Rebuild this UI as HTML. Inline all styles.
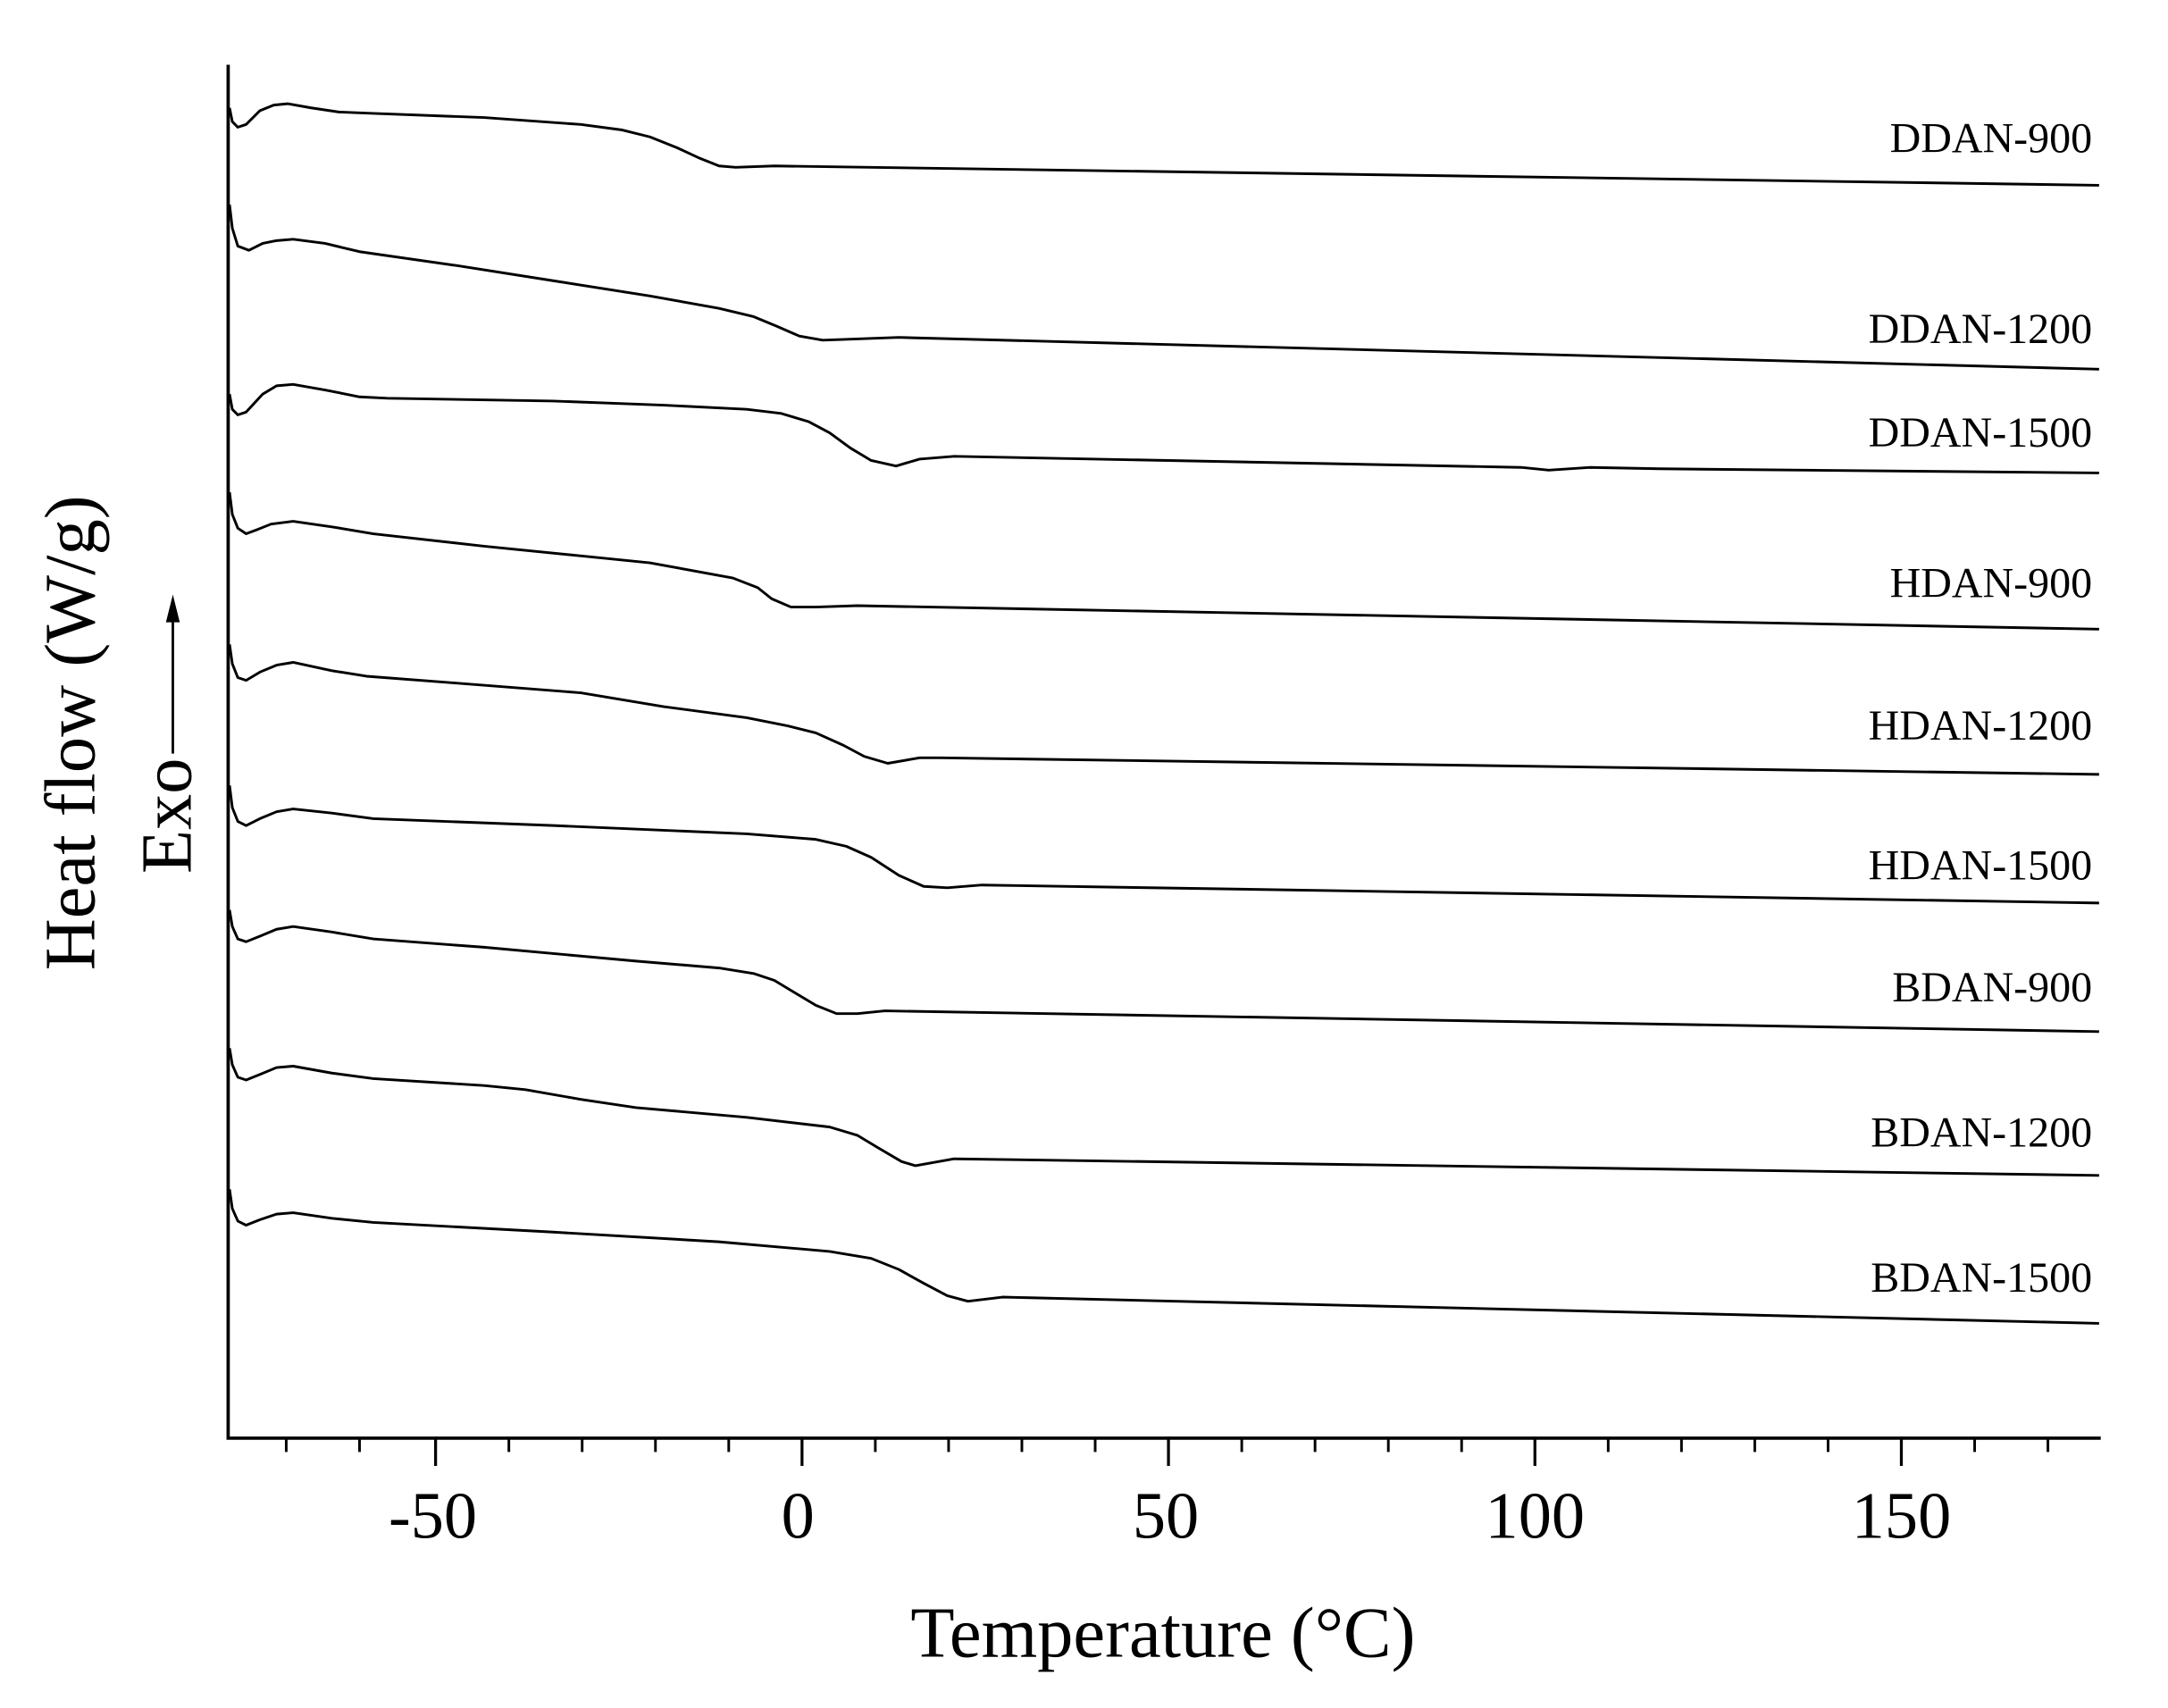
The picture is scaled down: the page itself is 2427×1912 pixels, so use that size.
<!DOCTYPE html>
<html><head><meta charset="utf-8"><style>
html,body{margin:0;padding:0;background:#fff;}
svg{display:block;}
text{font-family:"Liberation Serif",serif;fill:#000;}
</style></head><body>
<svg width="2427" height="1912" viewBox="0 0 2427 1912" xmlns="http://www.w3.org/2000/svg">
<g transform="scale(1.548)">
<g fill="none" stroke="#000" stroke-linecap="square">
<path d="M165,48 V1040 H1518" stroke-width="2.4"/>
<path stroke-width="1.9" d="M207,1040v9M260,1040v9M368,1040v9M421,1040v9M474,1040v9M527,1040v9M633,1040v9M686,1040v9M739,1040v9M792,1040v9M898,1040v9M951,1040v9M1004,1040v9M1057,1040v9M1163,1040v9M1216,1040v9M1269,1040v9M1322,1040v9M1428,1040v9M1481,1040v9"/>
<path stroke-width="2.1" d="M315,1040v19M580,1040v19M845,1040v19M1110,1040v19M1375,1040v19"/>
</g>
<g fill="none" stroke="#000" stroke-width="1.9" stroke-linejoin="round">
<polyline points="166,78 168,88 172,92 178,90 188,80 198,76 208,75 225,78 245,81 270,82 350,85 420,90 450,94 470,99 490,107 505,114 520,120 532,121 560,120 1518,134"/>
<polyline points="166,148 168,165 172,178 180,181 190,176 200,174 212,173 235,176 260,182 330,192 400,203 470,214 520,223 545,229 562,236 578,243 595,246 650,244 1518,267"/>
<polyline points="166,285 168,296 172,300 178,298 190,285 200,279 212,278 235,282 260,287 280,288 400,290 480,293 540,296 565,299 585,305 600,313 615,324 630,333 648,337 665,332 690,330 1100,338 1120,340 1150,338 1200,339 1518,342"/>
<polyline points="166,356 168,372 172,382 178,386 186,383 196,379 212,377 240,381 270,386 350,395 430,403 470,407 530,418 548,425 558,433 572,439 590,439 620,438 1518,455"/>
<polyline points="166,466 168,480 172,490 178,492 188,486 200,481 212,479 240,485 265,489 330,494 420,501 480,511 540,519 570,525 590,530 610,539 625,547 642,552 665,548 680,548 1518,560"/>
<polyline points="166,568 168,584 172,594 178,597 188,592 200,587 212,585 240,588 270,592 400,597 540,603 590,607 612,612 630,620 650,633 668,641 685,642 710,640 1518,653"/>
<polyline points="166,658 168,670 172,679 178,681 188,677 200,672 212,670 240,674 270,679 350,685 460,695 520,700 545,704 560,709 575,718 590,727 605,733 620,733 640,731 1518,746"/>
<polyline points="166,758 168,770 172,779 178,781 188,777 200,772 212,771 240,776 270,780 350,785 380,788 420,795 460,801 540,808 600,815 620,821 635,830 652,840 662,843 690,838 1518,850"/>
<polyline points="166,860 168,874 172,883 178,886 188,882 200,878 212,877 240,881 270,884 400,891 520,898 600,905 630,910 650,918 668,928 685,937 700,941 725,938 1518,957"/>
</g>
<g font-size="31" text-anchor="end">
<text x="1513" y="110">DDAN-900</text>
<text x="1513" y="248">DDAN-1200</text>
<text x="1513" y="323">DDAN-1500</text>
<text x="1513" y="432">HDAN-900</text>
<text x="1513" y="535">HDAN-1200</text>
<text x="1513" y="636">HDAN-1500</text>
<text x="1513" y="724">BDAN-900</text>
<text x="1513" y="829">BDAN-1200</text>
<text x="1513" y="934">BDAN-1500</text>
</g>
<g font-size="48" text-anchor="middle">
<text x="313" y="1112">-50</text>
<text x="577" y="1112">0</text>
<text x="843" y="1112">50</text>
<text x="1110" y="1112">100</text>
<text x="1375" y="1112">150</text>
</g>
<g font-size="52" text-anchor="middle">
<text x="841" y="1198">Temperature (°C)</text>
<text transform="translate(68,530) rotate(-90)">Heat flow (W/g)</text>
<text transform="translate(138,590) rotate(-90)">Exo</text>
</g>
<line x1="125" y1="545" x2="125" y2="448" stroke="#000" stroke-width="1.8"/>
<polygon points="125,430 120,450 130,450" fill="#000"/>
</g>
</svg>
</body></html>
